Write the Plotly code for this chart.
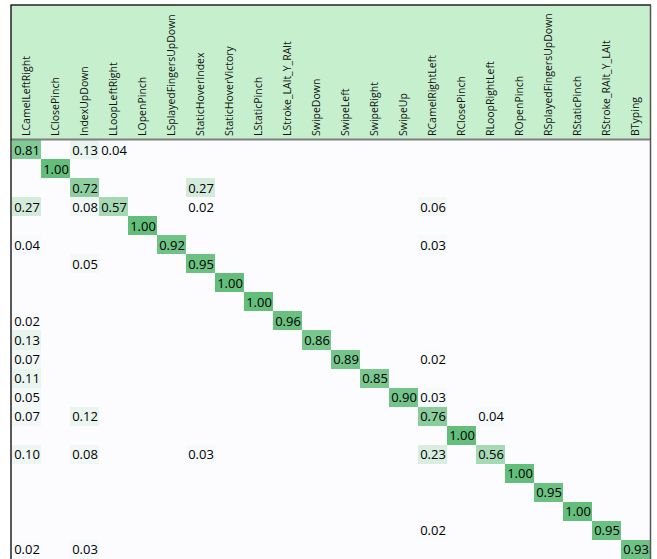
import plotly.graph_objects as go

labels = ["LCamelLeftRight", "LClosePinch", "IndexUpDown", "LLoopLeftRight", "LOpenPinch",
          "LSplayedFingersUpDown", "StaticHoverIndex", "StaticHoverVictory", "LStaticPinch",
          "LStroke_LAlt_Y_RAlt", "SwipeDown", "SwipeLeft", "SwipeRight", "SwipeUp",
          "RCamelRightLeft", "RClosePinch", "RLoopRightLeft", "ROpenPinch",
          "RSplayedFingersUpDown", "RStaticPinch", "RStroke_RAlt_Y_LAlt", "BTyping"]

# non-zero visible entries: (row, col, value)
entries = [
    (0, 0, 0.81), (0, 2, 0.13), (0, 3, 0.04),
    (1, 1, 1.00),
    (2, 2, 0.72), (2, 6, 0.27),
    (3, 0, 0.27), (3, 2, 0.08), (3, 3, 0.57), (3, 6, 0.02), (3, 14, 0.06),
    (4, 4, 1.00),
    (5, 0, 0.04), (5, 5, 0.92), (5, 14, 0.03),
    (6, 2, 0.05), (6, 6, 0.95),
    (7, 7, 1.00),
    (8, 8, 1.00),
    (9, 0, 0.02), (9, 9, 0.96),
    (10, 0, 0.13), (10, 10, 0.86),
    (11, 0, 0.07), (11, 11, 0.89), (11, 14, 0.02),
    (12, 0, 0.11), (12, 12, 0.85),
    (13, 0, 0.05), (13, 13, 0.90), (13, 14, 0.03),
    (14, 0, 0.07), (14, 2, 0.12), (14, 14, 0.76), (14, 16, 0.04),
    (15, 15, 1.00),
    (16, 0, 0.10), (16, 2, 0.08), (16, 6, 0.03), (16, 14, 0.23), (16, 16, 0.56),
    (17, 17, 1.00),
    (18, 18, 0.95),
    (19, 19, 1.00),
    (20, 14, 0.02), (20, 20, 0.95),
    (21, 0, 0.02), (21, 2, 0.03), (21, 21, 0.93),
]

n = len(labels)
z = [[0.0] * n for _ in range(n)]
text = [[""] * n for _ in range(n)]
for r, c, v in entries:
    z[r][c] = v
    text[r][c] = f"{v:.2f}"

W, H = 657, 559
L, R, T, B = 12, 7, 140, 0
pw, ph = W - L - R, H - T - B

def px_x(p):
    return (p - L) / pw

def px_y(p):
    return (H - B - p) / ph

fig = go.Figure(go.Heatmap(
    z=z, x=labels, y=list(range(n)), text=text, texttemplate="%{text}",
    textfont=dict(family="Open Sans", size=13, color="black"),
    colorscale=[[0, "#FCFCFF"], [1, "#63BE7B"]], zmin=0, zmax=1,
    showscale=False, hoverinfo="skip", xgap=0, ygap=0,
))

fig.update_layout(
    width=W, height=H, margin=dict(l=L, r=R, t=T, b=B, pad=0, autoexpand=False),
    paper_bgcolor="white", plot_bgcolor="#FCFCFF",
    xaxis=dict(side="top", tickangle=-90, showgrid=False, zeroline=False, showline=False,
               ticks="", ticklabelstandoff=3, fixedrange=True, automargin=False,
               tickfont=dict(family="Open Sans", size=10.5, color="#111111")),
    yaxis=dict(range=[n - 0.5, -0.5], visible=False, fixedrange=True, automargin=False),
    showlegend=False,
)

shapes = [
    dict(type="rect", xref="paper", yref="paper", x0=px_x(11), x1=px_x(650), y0=px_y(5), y1=px_y(139),
         fillcolor="#C6EFCE", line=dict(width=0), layer="below"),
    dict(type="line", xref="paper", yref="paper", x0=px_x(11), x1=px_x(650), y0=px_y(139.5), y1=px_y(139.5),
         line=dict(color="#7F7F7F", width=2)),
    dict(type="line", xref="paper", yref="paper", x0=px_x(10.5), x1=px_x(651), y0=px_y(5), y1=px_y(5),
         line=dict(color="#222222", width=1.5)),
    dict(type="line", xref="paper", yref="paper", x0=px_x(11), x1=px_x(11), y0=px_y(5), y1=px_y(560),
         line=dict(color="#222222", width=1.5)),
    dict(type="line", xref="paper", yref="paper", x0=px_x(650.5), x1=px_x(650.5), y0=px_y(5), y1=px_y(560),
         line=dict(color="#555555", width=1.5)),
]
fig.update_layout(shapes=shapes)

fig.write_html("out.html", config={"displayModeBar": False},
               post_script="document.body.style.margin='0px';document.body.style.overflow='hidden';")
